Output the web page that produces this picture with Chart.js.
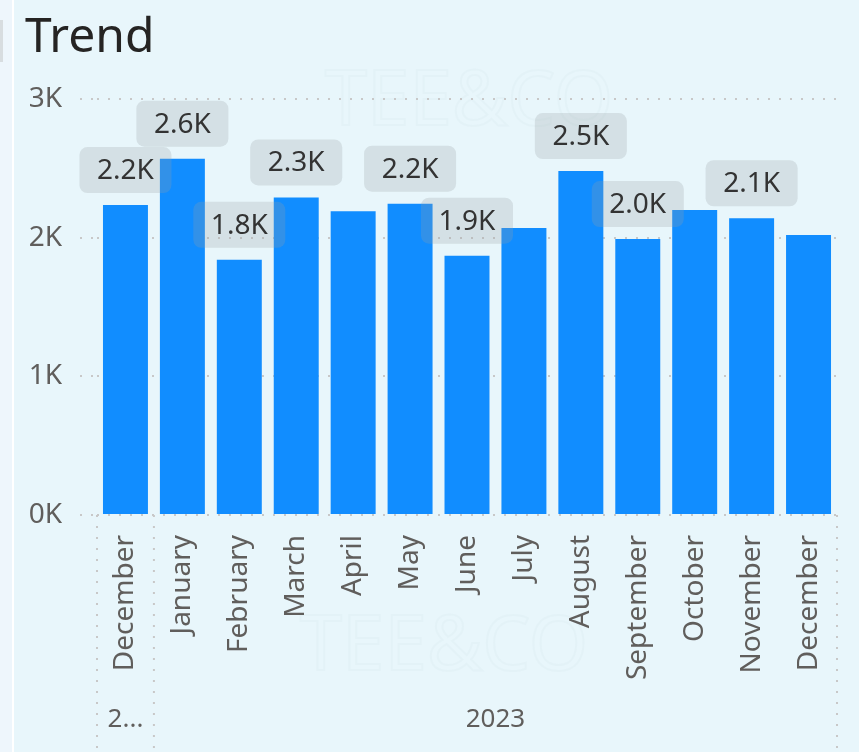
<!DOCTYPE html>
<html>
<head>
<meta charset="utf-8">
<script src="https://cdn.jsdelivr.net/npm/chart.js@4"></script>
<style>
  html, body { margin: 0; padding: 0; background: #eef6fc; overflow: hidden; }
  #wrap { position: absolute; left: 12px; top: 0; width: 845px; height: 752px; background: #e8f6fb; border-left: 2px solid #ffffff; }
  #stub { position: absolute; left: 0; top: 20px; width: 3px; height: 42px; background: #d8dde0; }
</style>
</head>
<body>
<div id="stub"></div>
<div id="wrap"><canvas id="trend" width="845" height="752"></canvas></div>
<script>
const months = ['December', 'January', 'February', 'March', 'April', 'May', 'June', 'July', 'August', 'September', 'October', 'November', 'December']
const sales = [2235, 2570, 1840, 2290, 2190, 2245, 1870, 2070, 2480, 1990, 2200, 2140, 2020]
// Power BI only printed some of the labels (overlap avoidance)
const labelShown = [true, true, true, true, false, true, true, false, true, true, false, true, false]
const yearGroups = [
  { label: '2022', from: 0, to: 0 },
  { label: '2023', from: 1, to: 12 }
]
const yTicks = [0, 1000, 2000, 3000]

const FONT = '"Segoe UI", "Noto Sans", sans-serif'
const kFormat = v => (v / 1000).toFixed(1) + 'K'

function fitText(ctx, text, maxW) {
  if (ctx.measureText(text).width <= maxW) return text
  let t = text
  while (t.length > 1 && ctx.measureText(t + '...').width > maxW) t = t.slice(0, -1)
  return t + '...'
}

const extras = {
  id: 'extras',
  beforeDraw(chart) {
    const ctx = chart.ctx
    ctx.save()
    // title
    ctx.fillStyle = '#252423'
    ctx.font = '48px ' + FONT
    ctx.textBaseline = 'alphabetic'
    ctx.fillText('Trend', 11, 52)
    // faint watermark
    ctx.strokeStyle = 'rgba(205,222,230,0.16)'
    ctx.lineWidth = 2
    ctx.font = '76px ' + FONT
    ctx.textAlign = 'center'
    ctx.strokeText('TEE&CO', 455, 125)
    ctx.strokeText('TEE&CO', 430, 670)
    ctx.restore()
  },
  afterDatasetsDraw(chart) {
    const ctx = chart.ctx
    const meta = chart.getDatasetMeta(0)
    ctx.save()
    ctx.font = '28px ' + FONT
    ctx.textAlign = 'center'
    ctx.textBaseline = 'middle'
    meta.data.forEach((bar, i) => {
      if (!labelShown[i]) return
      const txt = kFormat(sales[i])
      const w = 92, h = 46
      const cy = bar.y - 12 - h / 2
      ctx.fillStyle = 'rgba(150,160,165,0.25)'
      ctx.beginPath()
      ctx.roundRect(bar.x - w / 2, cy - h / 2, w, h, 8)
      ctx.fill()
      ctx.fillStyle = '#333333'
      ctx.fillText(txt, bar.x, cy + 1)
    })
    ctx.restore()
  },
  afterDraw(chart) {
    const ctx = chart.ctx
    const x = chart.scales.x
    const area = chart.chartArea
    const half = (x.getPixelForValue(1) - x.getPixelForValue(0)) / 2
    ctx.save()
    // group separators
    ctx.strokeStyle = '#c8c8c8'
    ctx.lineWidth = 2
    ctx.setLineDash([2, 9])
    const edges = [x.getPixelForValue(0) - half]
    yearGroups.forEach(g => edges.push(x.getPixelForValue(g.to) + half))
    edges.forEach(px => {
      ctx.beginPath()
      ctx.moveTo(px, area.bottom)
      ctx.lineTo(px, chart.height)
      ctx.stroke()
    })
    // year labels
    ctx.setLineDash([])
    ctx.fillStyle = '#605e5c'
    ctx.font = '26px ' + FONT
    ctx.textAlign = 'center'
    ctx.textBaseline = 'middle'
    yearGroups.forEach(g => {
      const l = x.getPixelForValue(g.from) - half
      const r = x.getPixelForValue(g.to) + half
      ctx.fillText(fitText(ctx, g.label, r - l - 8), (l + r) / 2, 720)
    })
    ctx.restore()
  }
}

new Chart(document.getElementById('trend'), {
  type: 'bar',
  data: {
    labels: months,
    datasets: [{
      data: sales,
      backgroundColor: '#118DFF',
      categoryPercentage: 1,
      barPercentage: 0.79
    }]
  },
  options: {
    responsive: false,
    animation: false,
    layout: { padding: { left: 10, right: 22, top: 99, bottom: 0 } },
    plugins: { legend: { display: false }, tooltip: { enabled: false } },
    scales: {
      x: {
        grid: { display: false },
        border: { display: false },
        ticks: {
          color: '#605e5c',
          font: { family: FONT, size: 28 },
          minRotation: 90,
          maxRotation: 90,
          autoSkip: false,
          padding: 12
        },
        afterFit(s) { s.height = 237 }
      },
      y: {
        min: 0,
        max: 3000,
        afterBuildTicks(s) { s.ticks = yTicks.map(v => ({ value: v })) },
        border: { display: false, dash: [2, 9] },
        grid: {
          color: '#c8c8c8',
          lineWidth: 2,
          tickLength: 17,
          tickColor: '#c8c8c8',
          tickBorderDash: [2, 9]
        },
        ticks: {
          color: '#605e5c',
          font: { family: FONT, size: 28 },
          padding: 18,
          callback: v => (v / 1000) + 'K'
        },
        afterFit(s) { s.width = 73 }
      }
    }
  },
  plugins: [extras]
})
</script>
</body>
</html>
